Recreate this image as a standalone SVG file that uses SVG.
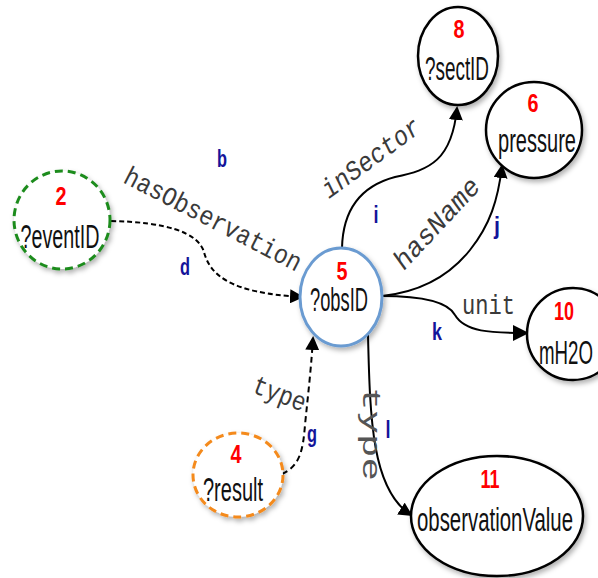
<svg xmlns="http://www.w3.org/2000/svg" width="598" height="578" viewBox="0 0 598 578">
<style>
.node{fill:#ffffff;stroke:#000;stroke-width:2.5}
.obs{stroke:#6b9bd1;stroke-width:3}
.green{stroke:#1f8c1f;stroke-width:3;stroke-dasharray:8,5}
.orange{stroke:#f48a1c;stroke-width:3;stroke-dasharray:8,5}
.num{font-family:"Liberation Sans",Arial,sans-serif;font-weight:bold;font-size:25px;fill:#ff0000;text-anchor:middle}
.name{font-family:"Liberation Sans",Arial,sans-serif;font-size:34px;fill:#111;text-anchor:middle}
.edge{fill:none;stroke:#000;stroke-width:2}
.pred{font-family:"Liberation Mono","Courier New",monospace;font-size:27px;fill:#3a3a3a}
.it{font-style:italic}
.lab{font-family:"Liberation Sans",Arial,sans-serif;font-weight:bold;font-size:23px;fill:#14149a;text-anchor:middle}
</style>
<defs>
<filter id="sh" x="-30%" y="-30%" width="160%" height="160%">
<feDropShadow dx="2" dy="3" stdDeviation="2.5" flood-color="#000" flood-opacity="0.3"/>
</filter>
<marker id="ah" markerUnits="userSpaceOnUse" markerWidth="14" markerHeight="14" refX="12" refY="7" orient="auto">
<path d="M0,0 L14,7 L0,14 z" fill="#000"/>
</marker>
<marker id="ahb" markerUnits="userSpaceOnUse" markerWidth="16" markerHeight="16" refX="14" refY="8" orient="auto">
<path d="M0,0 L16,8 L0,16 z" fill="#000"/>
</marker>
</defs>
<rect width="598" height="578" fill="#fff"/>

<g id="connectors">
<path id="e-hasObservation" class="edge" d="M111,221 C165,222 198,232 204,252 C210,275 230,293 302,297" stroke-width="2.5" stroke-dasharray="5,3" marker-end="url(#ah)"/>
<path id="e-type-g" class="edge" d="M282,474 C300,466 303,450 305,425 C308,395 311,370 313,338" stroke-width="1.8" stroke-dasharray="6,4" marker-end="url(#ah)"/>
<path id="e-inSector" class="edge" d="M342,248 C343,205 365,185 395,177 C430,170 452,160 457,108" marker-end="url(#ah)"/>
<path id="e-hasName" class="edge" d="M382,296 C420,292 450,275 470,250 C490,225 498,200 502,166" marker-end="url(#ah)"/>
<path id="e-unit" class="edge" d="M382,296 C425,296 448,302 455,315 C465,332 490,333 527,333" stroke-width="3.2" marker-end="url(#ahb)"/>
<path id="e-type-l" class="edge" d="M368,335 C370,420 372,490 411,515" stroke-width="1.8" marker-end="url(#ah)"/>

<text class="pred" transform="translate(122,182) rotate(27.3)" textLength="196" lengthAdjust="spacingAndGlyphs">hasObservation</text>
<text class="pred it" transform="translate(329,199) rotate(-36)" textLength="116" lengthAdjust="spacingAndGlyphs">inSector</text>
<text class="pred it" transform="translate(404,271) rotate(-47)" textLength="114" lengthAdjust="spacingAndGlyphs">hasName</text>
<text class="pred" x="462" y="314" textLength="53" lengthAdjust="spacingAndGlyphs">unit</text>
<text class="pred" transform="translate(251,392) rotate(21)" textLength="55" lengthAdjust="spacingAndGlyphs">type</text>
<text class="pred" transform="translate(363,387) rotate(90)" textLength="94" lengthAdjust="spacingAndGlyphs" style="font-size:25px;fill:#555">type</text>

<text class="lab" x="222" y="167" textLength="10" lengthAdjust="spacingAndGlyphs">b</text>
<text class="lab" x="185" y="275" textLength="10" lengthAdjust="spacingAndGlyphs">d</text>
<text class="lab" x="376" y="223" textLength="5" lengthAdjust="spacingAndGlyphs">i</text>
<text class="lab" x="497" y="234" textLength="6" lengthAdjust="spacingAndGlyphs">j</text>
<text class="lab" x="437" y="340" textLength="10" lengthAdjust="spacingAndGlyphs">k</text>
<text class="lab" x="388" y="438" textLength="5" lengthAdjust="spacingAndGlyphs">l</text>
<text class="lab" x="312" y="442" textLength="10" lengthAdjust="spacingAndGlyphs">g</text>
</g>

<g id="node8">
<ellipse class="node" cx="458" cy="56" rx="40" ry="49" filter="url(#sh)"/>
<text class="num" x="459" y="38" textLength="11" lengthAdjust="spacingAndGlyphs">8</text>
<text class="name" x="457" y="80" textLength="64" lengthAdjust="spacingAndGlyphs">?sectID</text>
</g>
<g id="node6">
<ellipse class="node" cx="534" cy="130" rx="48" ry="48" filter="url(#sh)"/>
<text class="num" x="533" y="112" textLength="11" lengthAdjust="spacingAndGlyphs">6</text>
<text class="name" x="537" y="152" textLength="78" lengthAdjust="spacingAndGlyphs">pressure</text>
</g>
<g id="node5">
<ellipse class="node obs" cx="341" cy="297" rx="41" ry="49" filter="url(#sh)"/>
<text class="num" x="342" y="280" textLength="11" lengthAdjust="spacingAndGlyphs">5</text>
<text class="name" x="339" y="311" textLength="58" lengthAdjust="spacingAndGlyphs">?obsID</text>
</g>
<g id="node10">
<ellipse class="node" cx="573" cy="334" rx="46" ry="46" filter="url(#sh)"/>
<text class="num" x="564" y="320" textLength="20" lengthAdjust="spacingAndGlyphs">10</text>
<text class="name" x="566" y="364" textLength="54" lengthAdjust="spacingAndGlyphs">mH2O</text>
</g>
<g id="node2">
<ellipse class="node green" cx="62" cy="220" rx="48" ry="49" filter="url(#sh)"/>
<text class="num" x="61" y="205" textLength="11" lengthAdjust="spacingAndGlyphs">2</text>
<text class="name" x="60" y="248" textLength="79" lengthAdjust="spacingAndGlyphs">?eventID</text>
</g>
<g id="node4">
<ellipse class="node orange" cx="238" cy="475" rx="45" ry="42" filter="url(#sh)"/>
<text class="num" x="236" y="463" textLength="11" lengthAdjust="spacingAndGlyphs">4</text>
<text class="name" x="233" y="501" textLength="60" lengthAdjust="spacingAndGlyphs">?result</text>
</g>
<g id="node11">
<ellipse class="node" cx="497" cy="516" rx="86" ry="60" filter="url(#sh)"/>
<text class="num" x="490" y="488" textLength="19" lengthAdjust="spacingAndGlyphs">11</text>
<text class="name" x="495" y="531" textLength="156" lengthAdjust="spacingAndGlyphs">observationValue</text>
</g>
</svg>
